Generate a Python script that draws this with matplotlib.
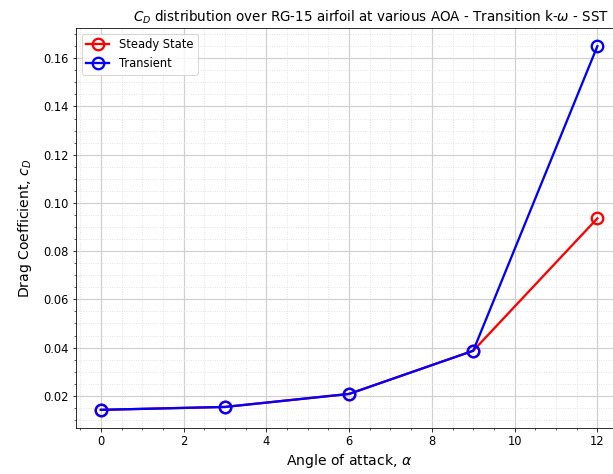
import matplotlib
matplotlib.use('Agg')
import matplotlib.pyplot as plt
from matplotlib.ticker import AutoMinorLocator

# 攻角 (deg) 与阻力系数
aoa = [0, 3, 6, 9, 12]
cd_steady = [0.0142, 0.0154, 0.0208, 0.0387, 0.0936]
cd_transient = [0.0142, 0.0154, 0.0208, 0.0387, 0.1650]

fig = plt.figure(figsize=(613 / 72, 474 / 72), dpi=72)
ax = fig.add_axes([0.124, 0.097, 0.891, 0.844])

ax.plot(aoa, cd_steady, color='red', linewidth=2.3, marker='o', markersize=11.5,
        markerfacecolor='none', markeredgewidth=2.3, label='Steady State')
ax.plot(aoa, cd_transient, color='blue', linewidth=2.3, marker='o', markersize=11.5,
        markerfacecolor='none', markeredgewidth=2.3, label='Transient')

ax.set_title(r'$C_D$ distribution over RG-15 airfoil at various AOA - Transition k-$\omega$ - SST',
             fontsize=13.5, x=0.54)
ax.set_xlabel(r'Angle of attack, $\alpha$', fontsize=14)
ax.set_ylabel(r'Drag Coefficient, $c_D$', fontsize=14, labelpad=10)

ax.xaxis.set_minor_locator(AutoMinorLocator(4))
ax.yaxis.set_minor_locator(AutoMinorLocator(4))
ax.grid(True, which='major', color='#d0d0d0', linewidth=1.2)
ax.grid(True, which='minor', color='#e0e0e0', linestyle=':', linewidth=0.9)
ax.tick_params(labelsize=11.5)
ax.legend(loc='upper left', fontsize=11.5)

fig.savefig('out.png', dpi=72)
